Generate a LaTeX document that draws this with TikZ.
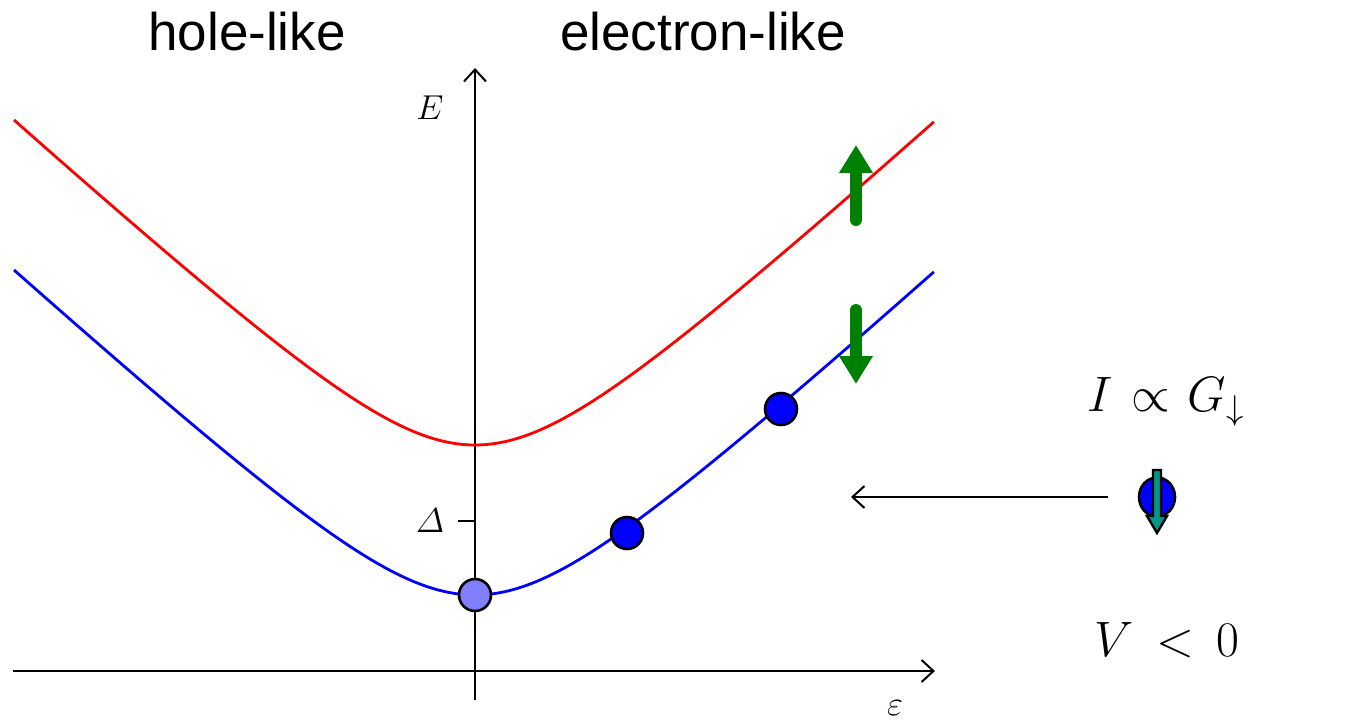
\documentclass[tikz,border=0pt]{standalone}
\usepackage{amsmath}
\usepackage{fontspec}
\setmainfont{Liberation Sans}
\usetikzlibrary{arrows.meta,shapes.geometric}
\definecolor{mygreen}{RGB}{0,128,0}
\definecolor{myteal}{RGB}{0,150,136}
\definecolor{lightdot}{RGB}{128,128,255}
\tikzset{
  axis/.style={line width=1pt,-{Straight Barb[length=6pt,width=11pt,line width=1pt]}},
  band/.style={line width=1.4pt},
  dot/.style={circle,draw=black,line width=1.3pt,minimum size=16pt,inner sep=0pt},
  spinarrow/.style={mygreen,line width=6pt,line cap=round,-{Triangle[width=16pt,length=14pt]}},
  biglabel/.style={font=\fontsize{26.5}{31}\selectfont},
  axlabel/.style={font=\fontsize{18}{21}\selectfont},
  mathlabel/.style={font=\fontsize{24}{29}\selectfont},
}
\begin{document}
\begin{tikzpicture}[x=0.5pt,y=-0.5pt]
\useasboundingbox (0,0) rectangle (1371,724);
% axes
\coordinate (xs) at (13,671);
\coordinate (xe) at (935,671);
\coordinate (ys) at (475,700);
\coordinate (ye) at (475,68);
\draw[axis] (xs) -- (xe);
\draw[axis] (ys) -- (ye);
\node[axlabel] (Elab) at (430,108) {$E$};
\node[axlabel] (eplab) at (895,708) {$\varepsilon$};
\coordinate (tick) at (458,521);
\coordinate (tickend) at (475,521);
\draw[line width=1pt] (tick) -- (tickend);
\node[axlabel] (Dlab) at (430,521) {$\varDelta$};
% bands
\draw[band,red] plot[domain=-4.61:4.59,samples=120,smooth] ({475+100*\x},{445-91.2*(sqrt(\x*\x+1.44)-1.2)});
\draw[band,blue] plot[domain=-4.61:4.59,samples=120,smooth] ({475+100*\x},{595-91.2*(sqrt(\x*\x+1.44)-1.2)});
% dots
\node[dot,fill=lightdot] (d0) at (475,595) {};
\node[dot,fill=blue] (d1) at (627,533) {};
\node[dot,fill=blue] (d2) at (781,409) {};
% green spin arrows
\coordinate (ua) at (856,220);
\coordinate (ub) at (856,145);
\coordinate (da) at (856,310);
\coordinate (db) at (856,384);
\draw[spinarrow] (ua) -- (ub);
\draw[spinarrow] (da) -- (db);
% incoming electron
\coordinate (ia) at (1108,497);
\coordinate (ib) at (851,497);
\draw[line width=1pt,-{Straight Barb[length=6pt,width=11pt,line width=1pt]}] (ia) -- (ib);
\node[ellipse,draw=black,fill=blue,line width=1.3pt,minimum width=18pt,minimum height=19.5pt,inner sep=0pt] (ball) at (1157,497) {};
\draw[fill=myteal,line width=1.2pt,line join=miter] (1153,470) -- (1161,470) -- (1161,516) -- (1167,516) -- (1157,533) -- (1147,516) -- (1153,516) -- cycle;
% texts
\node[biglabel] (hole) at (247,32) {hole-like};
\node[biglabel] (elec) at (703,32) {electron-like};
\node[mathlabel] (cur) at (1166,402) {$I\mkern1.5mu\propto\mkern1.5mu G_{\downarrow}$};
\node[mathlabel] (volt) at (1167,640) {$V\,<\,0$};
\end{tikzpicture}
\end{document}
